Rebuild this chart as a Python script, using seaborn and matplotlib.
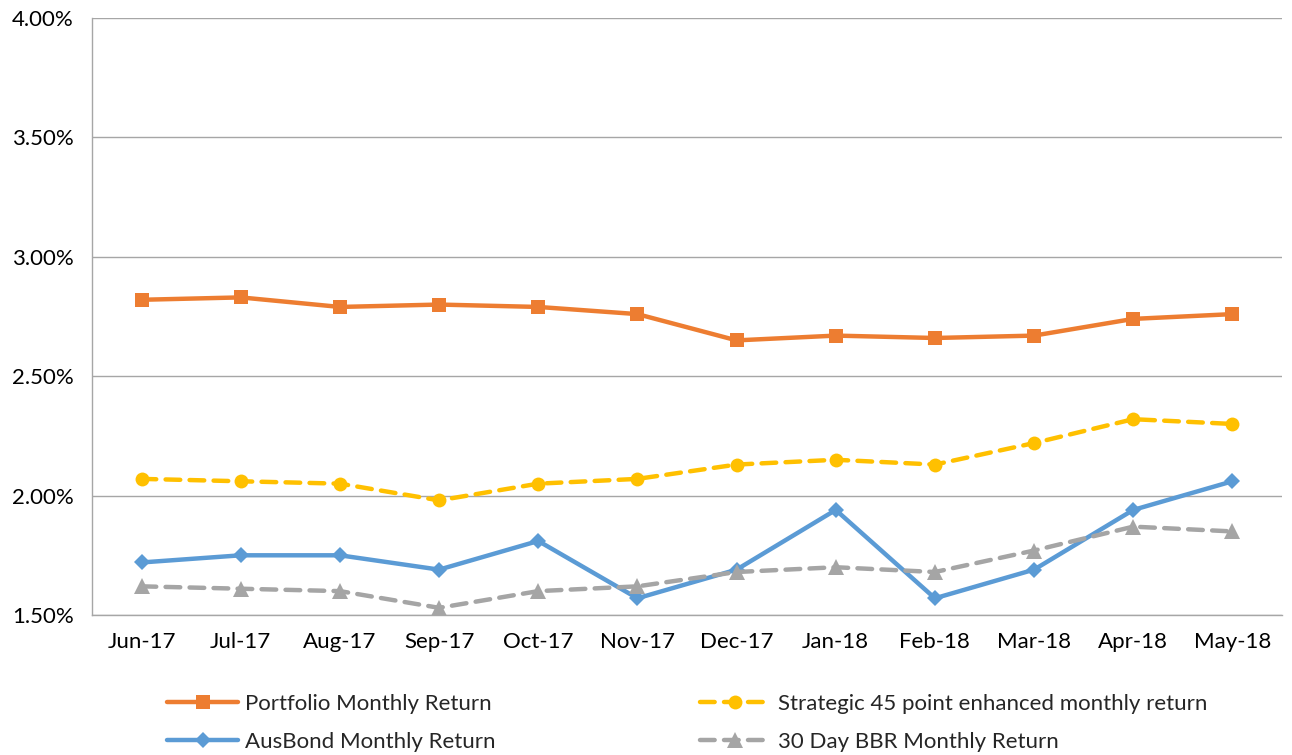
import numpy as np
import pandas as pd
import matplotlib
matplotlib.use("Agg")
import matplotlib.pyplot as plt
import seaborn as sns
from matplotlib.ticker import FuncFormatter, FixedLocator

sns.set_style("white")
plt.rcParams['font.family'] = ['Lato', 'DejaVu Sans']

months = ["Jun-17", "Jul-17", "Aug-17", "Sep-17", "Oct-17", "Nov-17",
          "Dec-17", "Jan-18", "Feb-18", "Mar-18", "Apr-18", "May-18"]

portfolio = [2.82, 2.83, 2.79, 2.80, 2.79, 2.76, 2.65, 2.67, 2.66, 2.67, 2.74, 2.76]
strategic = [2.07, 2.06, 2.05, 1.98, 2.05, 2.07, 2.13, 2.15, 2.13, 2.22, 2.32, 2.30]
ausbond = [1.72, 1.75, 1.75, 1.69, 1.81, 1.57, 1.69, 1.94, 1.57, 1.69, 1.94, 2.06]
bbr = [1.62, 1.61, 1.60, 1.53, 1.60, 1.62, 1.68, 1.70, 1.68, 1.77, 1.87, 1.85]

# name, values, colour, marker, marker size, dashed?
series = [
    ("Portfolio Monthly Return", portfolio, "#ED7D31", "s", 9.5, False),
    ("Strategic 45 point enhanced monthly return", strategic, "#FFC000", "o", 10, True),
    ("AusBond Monthly Return", ausbond, "#5B9BD5", "D", 8.5, False),
    ("30 Day BBR Monthly Return", bbr, "#A5A5A5", "^", 11, True),
]

fig = plt.figure(figsize=(12.92, 7.55), dpi=100)
ax = fig.add_axes([92 / 1292, 1 - 615 / 755, 1190 / 1292, 597 / 755])

for name, vals, col, mk, ms, dashed in series:
    sns.lineplot(x=months, y=vals, ax=ax, color=col, linewidth=3.2,
                 marker=mk, markersize=ms, markeredgewidth=0,
                 label=name, sort=False)
    l = ax.lines[-1]
    if dashed:
        l.set_dashes((3.3, 2.1))
        l.set_dash_capstyle("round")
    else:
        l.set_solid_capstyle("round")

ax.set_xlim(-0.5, 11.5)
ax.set_ylim(1.5, 4.0)
ax.set_yticks([1.5, 2.0, 2.5, 3.0, 3.5, 4.0])
ax.yaxis.set_major_formatter(FuncFormatter(lambda v, p: f"{v:.2f}%"))
ax.yaxis.grid(True, color="#A6A6A6", linewidth=1)
ax.xaxis.grid(False)
ax.set_axisbelow(True)

for s in ["top", "right"]:
    ax.spines[s].set_visible(False)
for s in ["left", "bottom"]:
    ax.spines[s].set_color("#A6A6A6")
    ax.spines[s].set_linewidth(1)

ax.tick_params(axis="y", which="major", length=7, color="#A6A6A6", width=1,
               labelsize=16, labelcolor="black", pad=6)
ax.tick_params(axis="x", which="major", length=0, labelsize=16,
               labelcolor="black", pad=12)
ax.xaxis.set_minor_locator(FixedLocator(np.arange(-0.5, 12, 1.0)))
ax.tick_params(axis="x", which="minor", length=7, color="#A6A6A6", width=1)
ax.set_xlabel("")
ax.set_ylabel("")

# legend: row-wise order like the original
handles, labels = ax.get_legend_handles_labels()
order = [0, 2, 1, 3]
ax.legend([handles[i] for i in order], [labels[i] for i in order], ncol=2,
          loc="upper left", bbox_to_anchor=(156 / 1292, 1 - 683 / 755),
          bbox_transform=fig.transFigure, frameon=False,
          fontsize=16, handlelength=3.2, handletextpad=0.3,
          columnspacing=9.2, labelspacing=0.8, borderpad=0)

fig.savefig("out.png", dpi=100)
